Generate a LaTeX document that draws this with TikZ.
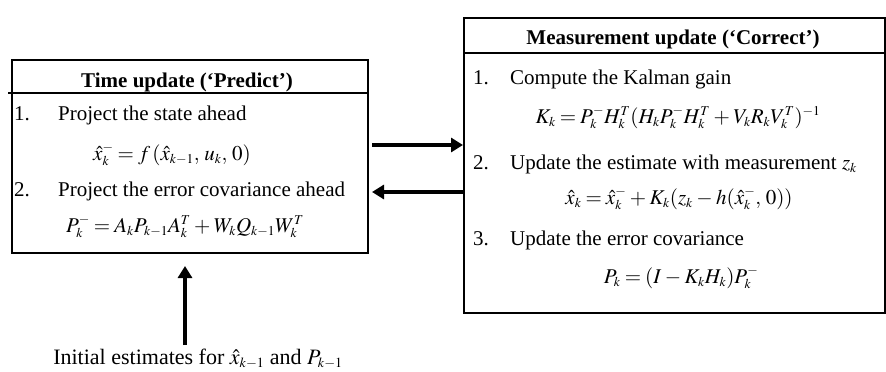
\documentclass[tikz,border=0pt]{standalone}
\usepackage{mathptmx}
\usepackage{fontspec}
\setmainfont{Liberation Serif}
\usetikzlibrary{arrows.meta}
% smaller sub- and superscripts at the picture's text sizes
\DeclareMathSizes{21}{21}{13.5}{10}
\DeclareMathSizes{22}{22}{14}{10}
\begin{document}
% spacing around relations and binary operators
\thickmuskip=3.5mu plus 1mu
\medmuskip=3mu plus 1mu
\begin{tikzpicture}[x=1pt,y=-1pt,
  box/.style={draw, line width=2pt, inner sep=0pt, anchor=north west},
  rule/.style={line width=1.1pt},
  txt/.style={inner sep=0pt, anchor=base west, font=\fontsize{21}{25}\selectfont},
  eq/.style={inner sep=0pt, anchor=base, font=\fontsize{21}{25}\selectfont},
  ttl/.style={inner sep=0pt, anchor=base, font=\fontsize{21}{25}\selectfont\bfseries},
  flow/.style={line width=4.5pt, -{Triangle[length=12pt,width=14pt]}}]
\useasboundingbox (0,0) rectangle (886,372);

% Time update box
\node[box, minimum width=356pt, minimum height=193pt] (tu) at (11,59) {};
\draw[rule] (8,93) -- (tu.east |- 0,93);
\node[ttl] (tut) at (187,87) {Time update (‘Predict’)};
\node[txt] (tu1n) at (14,120) {1.};
\node[txt] (tu1) at (58,120) {Project the state ahead};
\node[eq] (tue1) at (172,160) {$\hat{x}_k^- = f\,(\hat{x}_{k-1},\, u_k,\, 0)$};
\node[txt] (tu2n) at (14,196) {2.};
\node[txt] (tu2) at (58,196) {Project the error covariance ahead};
\node[eq] (tue2) at (185,232) {$P_k^- = A_k P_{k-1} A_k^T + W_k Q_{k-1} W_k^T$};

% Measurement update box
\node[box, minimum width=421pt, minimum height=295pt] (mu) at (463,17) {};
\draw[rule] (mu.west |- 0,53) -- (mu.east |- 0,53);
\node[ttl] (mut) at (673,44) {Measurement update (‘Correct’)};
\node[txt] (mu1n) at (473,84) {1.};
\node[txt] (mu1) at (510,84) {Compute the Kalman gain};
\node[eq] (mue1) at (678,123) {$K_k = P_k^- H_k^T (H_k P_k^- H_k^T + V_k R_k V_k^T)^{-1}$};
\node[txt] (mu2n) at (473,169) {2.};
\node[txt] (mu2) at (510,169) {Update the estimate with measurement $z_k$};
\node[eq] (mue2) at (679,204) {$\hat{x}_k = \hat{x}_k^- + K_k (z_k - h(\hat{x}_k^-,\, 0))$};
\node[txt] (mu3n) at (473,245) {3.};
\node[txt] (mu3) at (510,245) {Update the error covariance};
\node[eq] (mue3) at (681,283) {$P_k = (I - K_k H_k) P_k^-$};

% Initial estimates
\node[eq, font=\fontsize{22}{26}\selectfont] (init) at (198,364) {Initial estimates for $\hat{x}_{k-1}$ and $P_{k-1}$};

% Connectors
\coordinate (fwd) at (372,145);
\coordinate (back) at (372,192);
\coordinate (initup) at (185,345);
\coordinate (inittip) at (185,266);
\draw[flow] (fwd) -- (fwd -| mu.west);
\draw[flow] (back -| mu.west) -- (back);
\draw[flow] (initup) -- (inittip);
\end{tikzpicture}
\end{document}
